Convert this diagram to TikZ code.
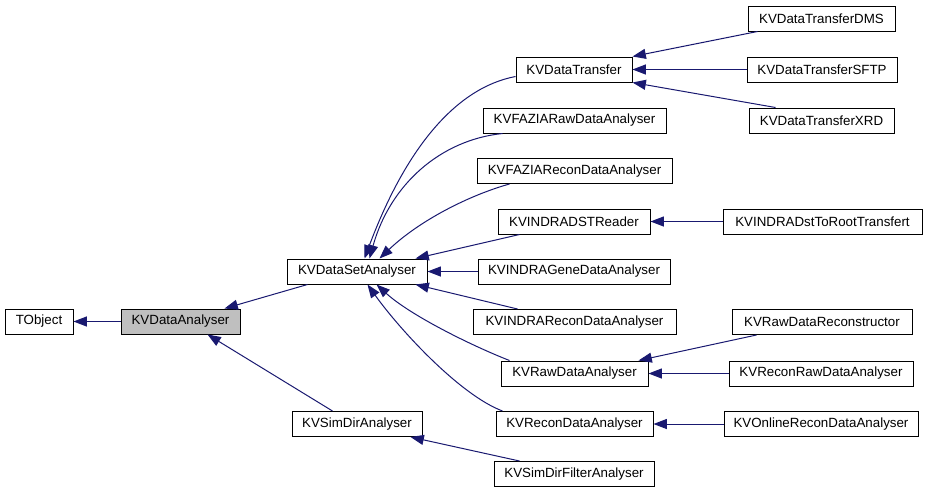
\documentclass[tikz,border=0pt]{standalone}
\usepackage{fontspec}
\setmainfont{Liberation Sans}
\usetikzlibrary{arrows.meta,calc}
\definecolor{edgeblue}{HTML}{191970}
\definecolor{curgray}{HTML}{BFBFBF}
\tikzset{
  cls/.style 2 args={draw=black, line width=0.75pt, fill=white, inner sep=0pt,
    minimum width=#1*0.75pt, minimum height=#2*0.75pt, font=\fontsize{10pt}{12pt}\selectfont},
  inh/.style={draw=edgeblue, line width=0.75pt, -{Triangle[length=10pt,width=7.5pt]}},
}
\begin{document}
\begin{tikzpicture}[x=0.75pt,y=-0.75pt]
\useasboundingbox (0,0) rectangle (927,493);
% nodes
\node[cls={68}{25}] (TO) at (39,321.5) {TObject};
\node[cls={119}{25}, fill=curgray] (DA) at (180.5,321.5) {KVDataAnalyser};
\node[cls={140}{25}] (DSA) at (357,271.5) {KVDataSetAnalyser};
\node[cls={130}{25}] (SD) at (357,424) {KVSimDirAnalyser};
\node[cls={116}{25}] (DT) at (574,69.5) {KVDataTransfer};
\node[cls={183}{25}] (FR) at (574.5,120.5) {KVFAZIARawDataAnalyser};
\node[cls={195}{25}] (FC) at (574.5,171) {KVFAZIAReconDataAnalyser};
\node[cls={152}{25}] (IR) at (574,221.5) {KVINDRADSTReader};
\node[cls={192}{25}] (IG) at (574,271.5) {KVINDRAGeneDataAnalyser};
\node[cls={203}{25}] (IC) at (574.5,322) {KVINDRAReconDataAnalyser};
\node[cls={147}{25}] (RA) at (574.5,373.5) {KVRawDataAnalyser};
\node[cls={157}{25}] (RC) at (574.5,424) {KVReconDataAnalyser};
\node[cls={160}{25}] (SF) at (574,474) {KVSimDirFilterAnalyser};
\node[cls={147}{25}] (DMS) at (821.5,18.5) {KVDataTransferDMS};
\node[cls={150}{25}] (SFTP) at (822,69.5) {KVDataTransferSFTP};
\node[cls={145}{25}] (XRD) at (821.5,120.5) {KVDataTransferXRD};
\node[cls={199}{25}] (DR) at (822.5,221.5) {KVINDRADstToRootTransfert};
\node[cls={180}{25}] (RR) at (822,322) {KVRawDataReconstructor};
\node[cls={184}{25}] (RRA) at (821,373.5) {KVReconRawDataAnalyser};
\node[cls={194}{25}] (OR) at (821,424) {KVOnlineReconDataAnalyser};
% edges
\draw[inh] (DA.west) -- (TO.east);
\draw[inh] ($(DSA.south west)+(21,0)$) -- ($(DA.north west)+(104,0)$);
\draw[inh] ($(SD.north west)+(41,0)$) -- ($(DA.south west)+(87,0)$);
\draw[inh] ($(DT.south west)+(0,-6)$) .. controls (455,88) and (405,150) .. ($(DSA.north west)+(78,0)$);
\draw[inh] ($(FR.south west)+(20,0)$) .. controls (440,140) and (390,185) .. ($(DSA.north west)+(83,0)$);
\draw[inh] ($(FC.south west)+(33,0)$) .. controls (470,195) and (420,220) .. ($(DSA.north west)+(93,0)$);
\draw[inh] ($(IR.south west)+(22,0)$) -- ($(DSA.north east)+(-12,0)$);
\draw[inh] (IG.west) -- (DSA.east);
\draw[inh] ($(IC.north west)+(45,0)$) -- ($(DSA.south east)+(-12,0)$);
\draw[inh] ($(RA.north west)+(9,0)$) .. controls (470,345) and (410,315) .. ($(DSA.south west)+(90,0)$);
\draw[inh] ($(RC.north west)+(7,0)$) .. controls (460,395) and (400,330) .. ($(DSA.south west)+(81,0)$);
\draw[inh] ($(DMS.south west)+(10,0)$) -- (DT.north east);
\draw[inh] (SFTP.west) -- (DT.east);
\draw[inh] ($(XRD.north west)+(27,0)$) -- (DT.south east);
\draw[inh] (DR.west) -- (IR.east);
\draw[inh] ($(RR.south west)+(25,0)$) -- ($(RA.north east)+(-10,0)$);
\draw[inh] (RRA.west) -- (RA.east);
\draw[inh] (OR.west) -- (RC.east);
\draw[inh] ($(SF.north west)+(26,0)$) -- ($(SD.south east)+(-12,0)$);
\end{tikzpicture}
\end{document}
